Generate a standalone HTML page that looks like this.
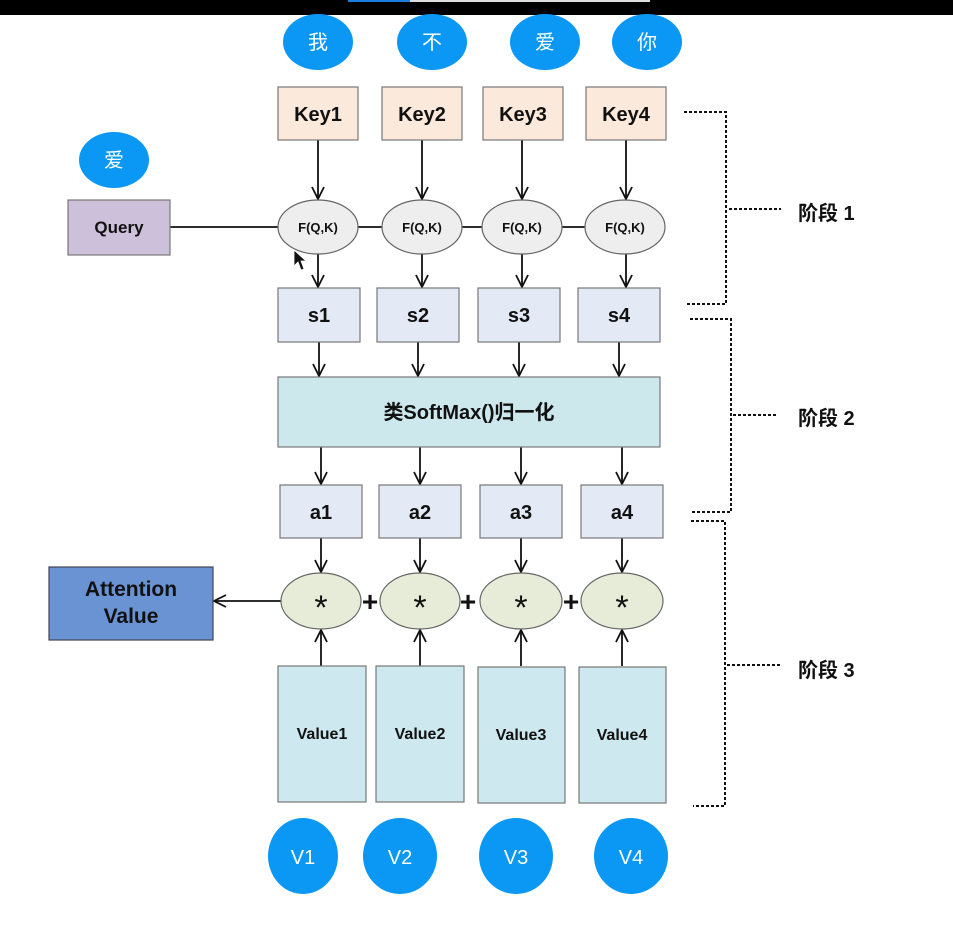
<!DOCTYPE html>
<html><head><meta charset="utf-8"><style>
html,body{margin:0;padding:0;background:#fff;}
svg{display:block;}
text{font-family:"Liberation Sans","Noto Sans CJK SC",sans-serif;font-weight:bold;}
</style></head><body>
<svg width="953" height="930" viewBox="0 0 953 930" xmlns="http://www.w3.org/2000/svg">
<defs>
<marker id="ar" viewBox="0 0 14 14" refX="13" refY="7" markerWidth="14" markerHeight="14" markerUnits="userSpaceOnUse" orient="auto">
<path d="M1,1 L13,7 L1,13" fill="none" stroke="#111" stroke-width="1.8"/>
</marker>
</defs>
<rect x="0" y="0" width="953" height="15" fill="#000"/>
<rect x="348" y="0" width="62" height="2" fill="#1a7de0"/>
<rect x="410" y="0" width="240" height="2" fill="#ddd"/>

<g fill="#0b98f5">
<ellipse cx="318" cy="42" rx="35" ry="28"/>
<ellipse cx="432" cy="42" rx="35" ry="28"/>
<ellipse cx="545" cy="42" rx="35" ry="28"/>
<ellipse cx="647" cy="42" rx="35" ry="28"/>
<ellipse cx="114" cy="160" rx="35" ry="28"/>
<ellipse cx="303" cy="856" rx="35" ry="38"/>
<ellipse cx="400" cy="856" rx="37" ry="38"/>
<ellipse cx="516" cy="856" rx="37" ry="38"/>
<ellipse cx="631" cy="856" rx="37" ry="38"/>
</g>
<g fill="#fff" font-size="20" text-anchor="middle">
<text x="318" y="49" style="font-weight:normal">我</text>
<text x="432" y="49" style="font-weight:normal">不</text>
<text x="545" y="49" style="font-weight:normal">爱</text>
<text x="647" y="49" style="font-weight:normal">你</text>
<text x="114" y="167" style="font-weight:normal">爱</text>
<text x="303" y="864" style="font-weight:normal">V1</text>
<text x="400" y="864" style="font-weight:normal">V2</text>
<text x="516" y="864" style="font-weight:normal">V3</text>
<text x="631" y="864" style="font-weight:normal">V4</text>
</g>

<g stroke="#111" stroke-width="1.8" marker-end="url(#ar)">
<line x1="318" y1="140" x2="318" y2="199"/>
<line x1="422" y1="140" x2="422" y2="199"/>
<line x1="522" y1="140" x2="522" y2="199"/>
<line x1="626" y1="140" x2="626" y2="199"/>
<line x1="318" y1="254" x2="318" y2="287"/>
<line x1="422" y1="254" x2="422" y2="287"/>
<line x1="522" y1="254" x2="522" y2="287"/>
<line x1="626" y1="254" x2="626" y2="287"/>
<line x1="319" y1="342" x2="319" y2="376"/>
<line x1="418" y1="342" x2="418" y2="376"/>
<line x1="519" y1="342" x2="519" y2="376"/>
<line x1="619" y1="342" x2="619" y2="376"/>
<line x1="321" y1="447" x2="321" y2="484"/>
<line x1="420" y1="447" x2="420" y2="484"/>
<line x1="521" y1="447" x2="521" y2="484"/>
<line x1="622" y1="447" x2="622" y2="484"/>
<line x1="321" y1="538" x2="321" y2="572"/>
<line x1="420" y1="538" x2="420" y2="572"/>
<line x1="521" y1="538" x2="521" y2="572"/>
<line x1="622" y1="538" x2="622" y2="572"/>
<line x1="321" y1="666" x2="321" y2="630"/>
<line x1="420" y1="666" x2="420" y2="630"/>
<line x1="521" y1="666" x2="521" y2="630"/>
<line x1="622" y1="666" x2="622" y2="630"/>
<line x1="281" y1="601" x2="214" y2="601"/>
</g>
<line x1="170" y1="227" x2="665" y2="227" stroke="#111" stroke-width="1.8"/>

<g stroke="#777" stroke-width="1.2" fill="#fbe9dc">
<rect x="278" y="87" width="80" height="53"/>
<rect x="382" y="87" width="80" height="53"/>
<rect x="483" y="87" width="80" height="53"/>
<rect x="586" y="87" width="80" height="53"/>
</g>
<rect x="68" y="200" width="102" height="55" fill="#ccc0da" stroke="#777" stroke-width="1.2"/>
<g stroke="#666" stroke-width="1.2" fill="#eeeeee">
<ellipse cx="318" cy="227" rx="40" ry="27"/>
<ellipse cx="422" cy="227" rx="40" ry="27"/>
<ellipse cx="522" cy="227" rx="40" ry="27"/>
<ellipse cx="625" cy="227" rx="40" ry="27"/>
</g>
<g stroke="#777" stroke-width="1.2" fill="#e3eaf5">
<rect x="278" y="288" width="82" height="54"/>
<rect x="377" y="288" width="82" height="54"/>
<rect x="478" y="288" width="82" height="54"/>
<rect x="578" y="288" width="82" height="54"/>
<rect x="280" y="485" width="82" height="53"/>
<rect x="379" y="485" width="82" height="53"/>
<rect x="480" y="485" width="82" height="53"/>
<rect x="581" y="485" width="82" height="53"/>
</g>
<rect x="278" y="377" width="382" height="70" fill="#cde8ec" stroke="#777" stroke-width="1.2"/>
<g stroke="#666" stroke-width="1.2" fill="#e7ecd9">
<ellipse cx="321" cy="601" rx="40" ry="28"/>
<ellipse cx="420" cy="601" rx="40" ry="28"/>
<ellipse cx="521" cy="601" rx="41" ry="28"/>
<ellipse cx="622" cy="601" rx="41" ry="28"/>
</g>
<rect x="49" y="567" width="164" height="73" fill="#6a93d4" stroke="#445" stroke-width="1.2"/>
<g stroke="#777" stroke-width="1.2" fill="#cde8ee">
<rect x="278" y="666" width="88" height="136"/>
<rect x="376" y="666" width="88" height="136"/>
<rect x="478" y="667" width="87" height="136"/>
<rect x="579" y="667" width="87" height="136"/>
</g>

<g fill="#111" text-anchor="middle">
<text x="318" y="121" font-size="20">Key1</text>
<text x="422" y="121" font-size="20">Key2</text>
<text x="523" y="121" font-size="20">Key3</text>
<text x="626" y="121" font-size="20">Key4</text>
<text x="119" y="233" font-size="17">Query</text>
<text x="318" y="232" font-size="13">F(Q,K)</text>
<text x="422" y="232" font-size="13">F(Q,K)</text>
<text x="522" y="232" font-size="13">F(Q,K)</text>
<text x="625" y="232" font-size="13">F(Q,K)</text>
<text x="319" y="322" font-size="20">s1</text>
<text x="418" y="322" font-size="20">s2</text>
<text x="519" y="322" font-size="20">s3</text>
<text x="619" y="322" font-size="20">s4</text>
<text x="469" y="419" font-size="20">类SoftMax()归一化</text>
<text x="321" y="519" font-size="20">a1</text>
<text x="420" y="519" font-size="20">a2</text>
<text x="521" y="519" font-size="20">a3</text>
<text x="622" y="519" font-size="20">a4</text>
<text x="321" y="619" font-size="34" style="font-weight:normal">*</text>
<text x="420" y="619" font-size="34" style="font-weight:normal">*</text>
<text x="521" y="619" font-size="34" style="font-weight:normal">*</text>
<text x="622" y="619" font-size="34" style="font-weight:normal">*</text>
<text x="370" y="611" font-size="28">+</text>
<text x="468" y="611" font-size="28">+</text>
<text x="571" y="611" font-size="28">+</text>
<text x="131" y="596" font-size="21">Attention</text>
<text x="131" y="623" font-size="21">Value</text>
<text x="322" y="739" font-size="16">Value1</text>
<text x="420" y="739" font-size="16">Value2</text>
<text x="521" y="740" font-size="16">Value3</text>
<text x="622" y="740" font-size="16">Value4</text>
</g>

<g fill="none" stroke="#111" stroke-width="2" stroke-dasharray="3,2">
<polyline points="684,112 726,112 726,304 686,304"/>
<line x1="729" y1="209" x2="781" y2="209"/>
<polyline points="690,319 731,319 731,512 692,512"/>
<line x1="733" y1="415" x2="776" y2="415"/>
<polyline points="691,521 725,521 725,806 693,806"/>
<line x1="727" y1="665" x2="781" y2="665"/>
</g>
<g fill="#111" font-size="20">
<text x="798" y="220">阶段 1</text>
<text x="798" y="425">阶段 2</text>
<text x="798" y="677">阶段 3</text>
</g>
<path d="M294,250 L294,266 L298,262 L301,270 L304,269 L301,261 L306,261 Z" fill="#111" stroke="#fff" stroke-width="0.8"/>
</svg>
</body></html>
